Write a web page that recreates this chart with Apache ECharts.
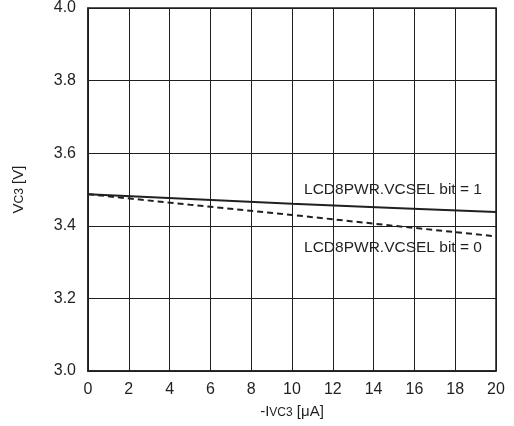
<!DOCTYPE html>
<html><head><meta charset="utf-8">
<script src="https://cdn.jsdelivr.net/npm/echarts@6/dist/echarts.min.js"></script>
<style>html,body{margin:0;padding:0;background:#fff}#c{width:514px;height:426px}</style>
</head><body><div id="c"></div>
<script>
const xValues = [0, 5, 10, 15, 20];
const bit1Values = [3.487, 3.474, 3.461, 3.449, 3.438];
const bit0Values = [3.487, 3.458, 3.430, 3.400, 3.371];
const xTicks = [0, 2, 4, 6, 8, 10, 12, 14, 16, 18, 20];
const yTicks = [3.0, 3.2, 3.4, 3.6, 3.8, 4.0];
const labelBit1 = 'LCD8PWR.VCSEL bit = 1';
const labelBit0 = 'LCD8PWR.VCSEL bit = 0';

const ink = '#231f20';
const font = 'Liberation Sans, Arial, Helvetica, sans-serif';
const chart = echarts.init(document.getElementById('c'));
function pairs(ys){ return xValues.map((x,i)=>[x, ys[i]]); }
chart.setOption({
  animation: false,
  grid: {left: 88, top: 8, right: 18, bottom: 55},
  xAxis: {
    type: 'value', min: xTicks[0], max: xTicks[xTicks.length-1], interval: 2,
    axisLine: {show: true, onZero: false, lineStyle: {color: ink, width: 1.5}},
    axisTick: {show: false},
    splitLine: {show: true, lineStyle: {color: ink, width: 1}},
    axisLabel: {color: ink, fontSize: 16, fontFamily: font, margin: 11},
    name: '-I{s|VC3} [μA]', nameLocation: 'middle', nameGap: 33,
    nameTextStyle: {color: ink, fontSize: 15, fontFamily: font,
      rich: {s: {fontSize: 12, fontFamily: font, color: ink, verticalAlign: 'bottom', padding: [3,0,0,0]}}}
  },
  yAxis: {
    type: 'value', min: yTicks[0], max: yTicks[yTicks.length-1], interval: 0.2,
    axisLine: {show: true, lineStyle: {color: ink, width: 1.5}},
    axisTick: {show: false},
    splitLine: {show: true, lineStyle: {color: ink, width: 1}},
    axisLabel: {color: ink, fontSize: 16, fontFamily: font, margin: 12, formatter: v => v.toFixed(1)},
    name: 'V{s|C3} [V]', nameLocation: 'middle', nameGap: 62, nameRotate: 90,
    nameTextStyle: {color: ink, fontSize: 15, fontFamily: font,
      rich: {s: {fontSize: 12, fontFamily: font, color: ink, verticalAlign: 'bottom', padding: [3,0,0,0]}}}
  },
  graphic: [
    {type: 'rect', shape: {x: 88, y: 8, width: 408, height: 363}, style: {fill: 'none', stroke: ink, lineWidth: 1.5}, z: 10}
  ],
  series: [
    {type: 'line', data: pairs(bit1Values), symbol: 'none', lineStyle: {color: ink, width: 2}, z: 5,
     markPoint: {symbol: 'circle', symbolSize: 0, data: [{coord: [14.95, 3.4995], value: labelBit1}],
       label: {show: true, formatter: labelBit1, color: ink, fontSize: 15.5, fontFamily: font, position: 'inside'}}},
    {type: 'line', data: pairs(bit0Values), symbol: 'none', lineStyle: {color: ink, width: 2, type: [6,4]}, z: 5,
     markPoint: {symbol: 'circle', symbolSize: 0, data: [{coord: [14.95, 3.340], value: labelBit0}],
       label: {show: true, formatter: labelBit0, color: ink, fontSize: 15.5, fontFamily: font, position: 'inside'}}}
  ]
});
</script></body></html>
